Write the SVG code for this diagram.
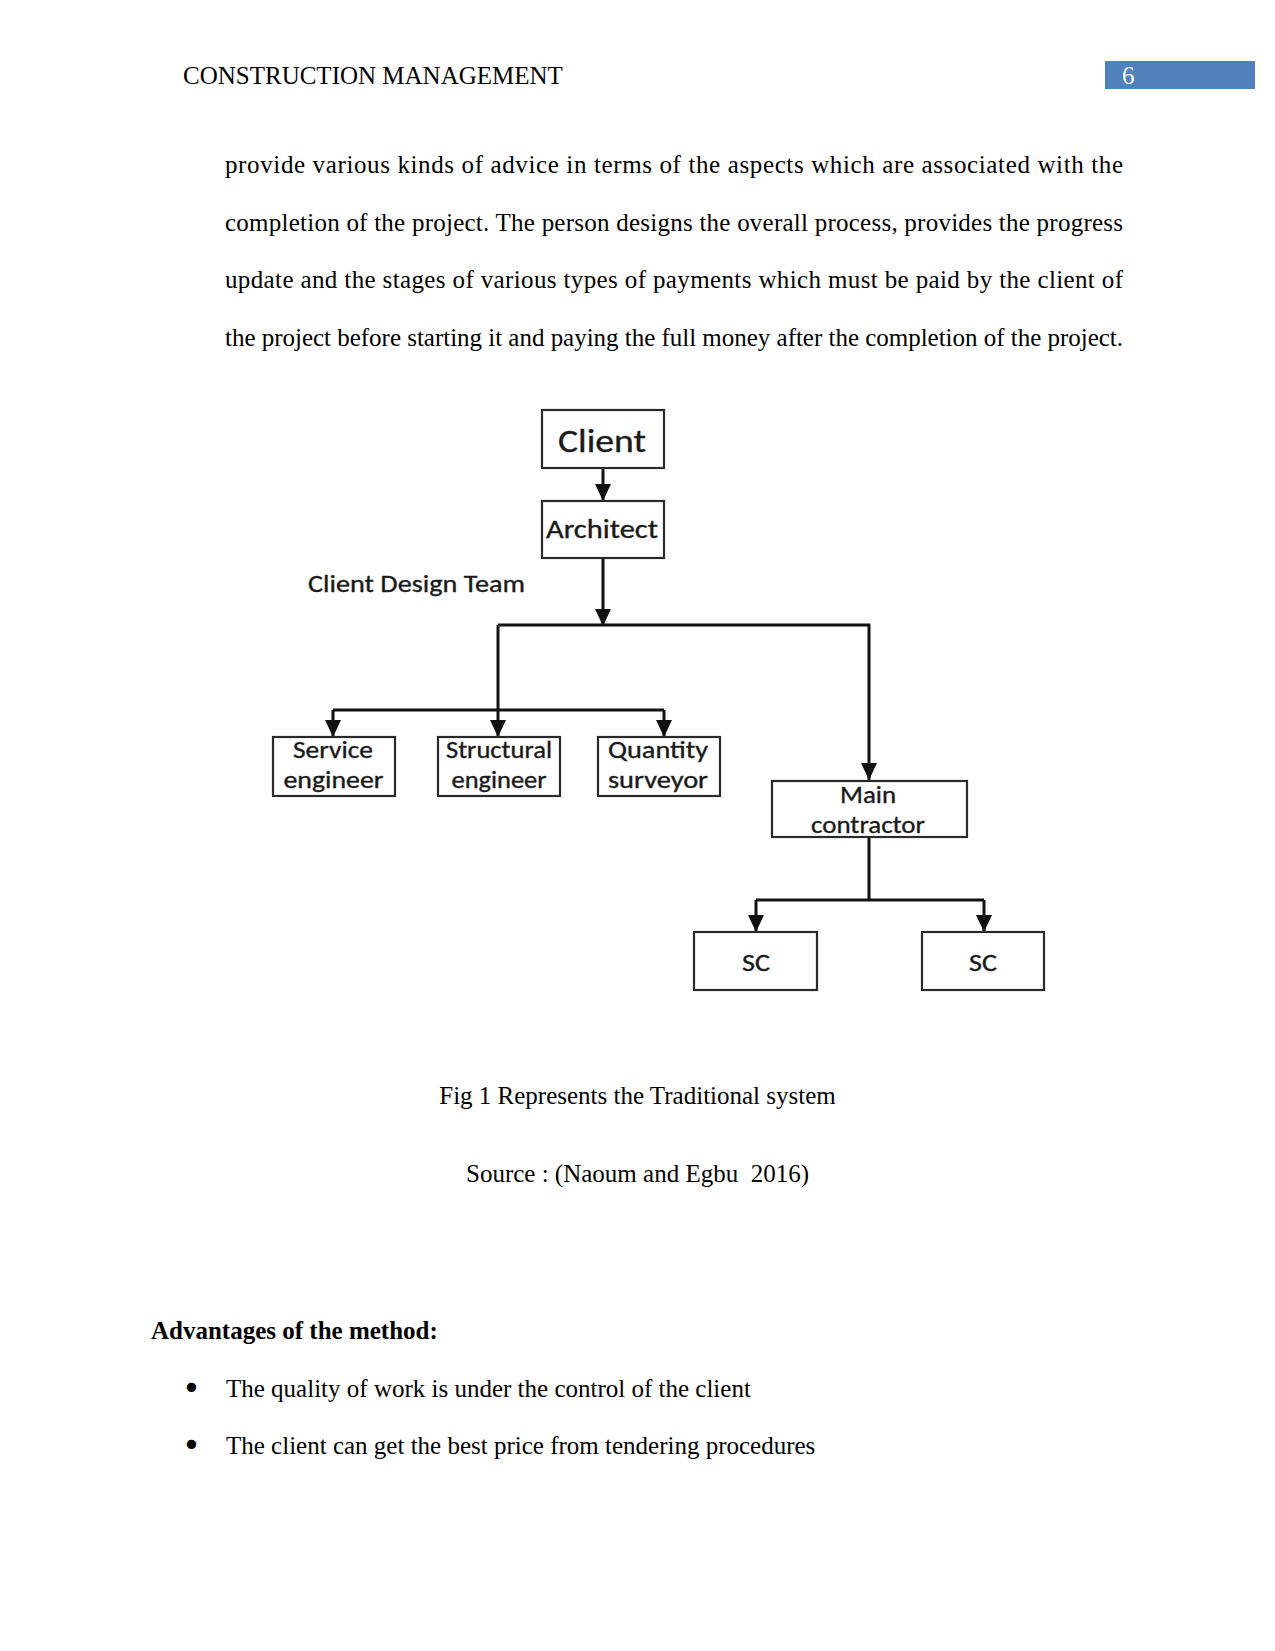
<svg xmlns="http://www.w3.org/2000/svg" width="1275" height="1651" viewBox="0 0 1275 1651">
<defs>
<marker id="arr" markerUnits="userSpaceOnUse" markerWidth="17" markerHeight="16" viewBox="0 0 17 16" refX="17" refY="8" orient="auto">
<path d="M0,0 L17,8 L0,16 Z" fill="#111"/>
</marker>
<style>
.serif{font-family:"Liberation Serif","Times New Roman",serif;font-size:25px;fill:#000}
.bold{font-weight:bold}
.bul{font-family:"DejaVu Sans",sans-serif;font-size:32px;fill:#000}
.lbl{font-family:Carlito,Lato,"Open Sans",sans-serif;fill:#1a1a1a;stroke:#1a1a1a;stroke-width:0.35;text-anchor:middle}
.box{fill:#fff;stroke:#2a2a2a;stroke-width:2.2}
.ln{fill:none;stroke:#111;stroke-width:3}
</style>
</defs>
<rect width="1275" height="1651" fill="#fff"/>

<g id="header">
<text class="serif" x="183" y="84">CONSTRUCTION MANAGEMENT</text>
<rect x="1105" y="61" width="150" height="28" fill="#4F81BD"/>
<text class="serif" x="1122" y="84" style="fill:#fff">6</text>
</g>

<g id="body">
<text class="serif" x="225" y="173" textLength="898" lengthAdjust="spacing">provide various kinds of advice in terms of the aspects which are associated with the</text>
<text class="serif" x="225" y="230.5" textLength="898" lengthAdjust="spacing">completion of the project. The person designs the overall process, provides the progress</text>
<text class="serif" x="225" y="288" textLength="898" lengthAdjust="spacing">update and the stages of various types of payments which must be paid by the client of</text>
<text class="serif" x="225" y="345.5" textLength="898" lengthAdjust="spacing">the project before starting it and paying the full money after the completion of the project.</text>
</g>

<g id="connectors">
<path class="ln" d="M603,468 V501" marker-end="url(#arr)"/>
<path class="ln" d="M603,558 V626" marker-end="url(#arr)"/>
<path class="ln" d="M498,625 H869 V780" marker-end="url(#arr)"/>
<path class="ln" d="M498,625 V737" marker-end="url(#arr)"/>
<path class="ln" d="M333,710 H664"/>
<path class="ln" d="M333,710 V737" marker-end="url(#arr)"/>
<path class="ln" d="M664,710 V737" marker-end="url(#arr)"/>
<path class="ln" d="M869,837 V900"/>
<path class="ln" d="M756,900 H984"/>
<path class="ln" d="M756,900 V932" marker-end="url(#arr)"/>
<path class="ln" d="M984,900 V932" marker-end="url(#arr)"/>
</g>

<g id="client">
<rect class="box" x="542" y="410" width="122" height="58"/>
<text class="lbl" x="602" y="452" font-size="33" textLength="88" lengthAdjust="spacingAndGlyphs">Client</text>
</g>
<g id="architect">
<rect class="box" x="542" y="501" width="122" height="57"/>
<text class="lbl" x="602" y="538" font-size="26" textLength="112" lengthAdjust="spacingAndGlyphs">Architect</text>
</g>
<g id="client-design-team">
<text class="lbl" x="416.5" y="592" font-size="25" textLength="217" lengthAdjust="spacingAndGlyphs">Client Design Team</text>
</g>
<g id="service-engineer">
<rect class="box" x="273" y="737" width="122" height="59"/>
<text class="lbl" x="333" y="758" font-size="24" textLength="80" lengthAdjust="spacingAndGlyphs">Service</text>
<text class="lbl" x="333.5" y="787.5" font-size="24" textLength="100" lengthAdjust="spacingAndGlyphs">engineer</text>
</g>
<g id="structural-engineer">
<rect class="box" x="438" y="737" width="122" height="59"/>
<text class="lbl" x="499" y="758" font-size="24" textLength="106" lengthAdjust="spacingAndGlyphs">Structural</text>
<text class="lbl" x="499" y="787.5" font-size="24" textLength="95" lengthAdjust="spacingAndGlyphs">engineer</text>
</g>
<g id="quantity-surveyor">
<rect class="box" x="598" y="737" width="122" height="59"/>
<text class="lbl" x="658" y="758" font-size="24" textLength="100" lengthAdjust="spacingAndGlyphs">Quantity</text>
<text class="lbl" x="658" y="787.5" font-size="24" textLength="100" lengthAdjust="spacingAndGlyphs">surveyor</text>
</g>
<g id="main-contractor">
<rect class="box" x="772" y="781" width="195" height="56"/>
<text class="lbl" x="868" y="803" font-size="25" textLength="56" lengthAdjust="spacingAndGlyphs">Main</text>
<text class="lbl" x="868" y="833" font-size="25" textLength="114" lengthAdjust="spacingAndGlyphs">contractor</text>
</g>
<g id="sc-1">
<rect class="box" x="694" y="932" width="123" height="58"/>
<text class="lbl" x="756" y="971" font-size="24" textLength="28" lengthAdjust="spacingAndGlyphs">SC</text>
</g>
<g id="sc-2">
<rect class="box" x="922" y="932" width="122" height="58"/>
<text class="lbl" x="983" y="971" font-size="24" textLength="28" lengthAdjust="spacingAndGlyphs">SC</text>
</g>

<g id="caption">
<text class="serif" x="637.5" y="1104" text-anchor="middle">Fig 1 Represents the Traditional system</text>
<text class="serif" x="637.5" y="1182" text-anchor="middle" xml:space="preserve" style="white-space:pre">Source : (Naoum and Egbu  2016)</text>
</g>

<g id="advantages">
<text class="serif bold" x="151" y="1339">Advantages of the method:</text>
<text class="bul" x="182" y="1399">•</text>
<text class="serif" x="226" y="1397">The quality of work is under the control of the client</text>
<text class="bul" x="182" y="1456">•</text>
<text class="serif" x="226" y="1454">The client can get the best price from tendering procedures</text>
</g>
</svg>
